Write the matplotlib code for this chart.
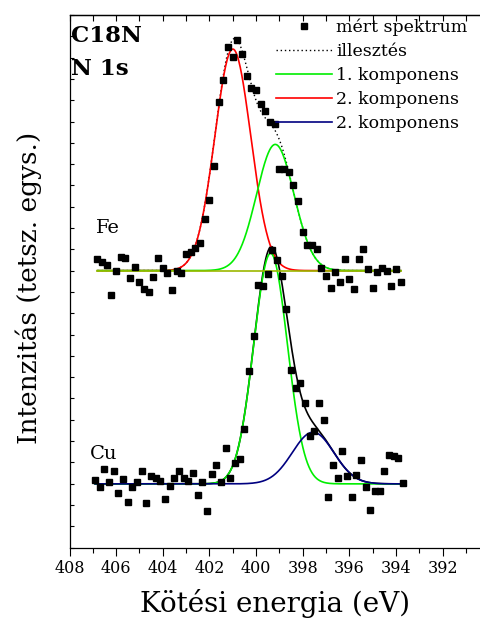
import numpy as np
import matplotlib
matplotlib.use("Agg")
import matplotlib.pyplot as plt
from matplotlib.ticker import MultipleLocator, NullFormatter
from matplotlib.lines import Line2D

# --- measured N 1s spectra (binding energy grid in eV, intensity in arb. units) ---
fe_energy = np.round(np.arange(406.8, 393.79, -0.2), 2)
fe_counts = [54.2, 53.7, 53.0, 47.5, 52.0, 54.5, 54.3, 50.7, 52.6, 49.8,
             48.6, 48.0, 50.8, 54.3, 52.5, 51.5, 48.4, 51.9, 51.5, 55.2,
             55.5, 56.2, 57.2, 61.6, 65.2, 71.7, 83.7, 87.7, 93.9, 92.2,
             95.3, 92.7, 88.5, 86.3, 85.9, 83.2, 82.0, 80.0, 79.5, 71.1,
             71.1, 70.5, 68.0, 65.0, 59.2, 56.8, 56.8, 56.0, 52.5, 51.0,
             48.8, 51.7, 49.8, 54.2, 50.4, 48.6, 54.2, 56.0, 52.3, 48.8,
             51.8, 52.5, 52.0, 49.1, 52.3, 49.8]

cu_energy = np.round(np.arange(406.9, 393.69, -0.2), 2)
cu_counts = [12.6, 11.4, 14.8, 12.3, 14.4, 10.3, 12.8, 8.5, 11.3, 12.3,
             14.4, 8.4, 13.4, 13.0, 12.4, 9.2, 11.6, 13.0, 14.4, 13.0,
             12.4, 13.9, 9.9, 12.3, 6.9, 13.8, 15.4, 12.3, 18.6, 13.1,
             15.8, 16.7, 22.3, 33.2, 39.8, 49.3, 49.2, 51.3, 55.9, 54.0,
             51.0, 44.7, 33.4, 30.0, 30.9, 27.1, 21.0, 21.8, 27.1, 24.0,
             9.4, 15.5, 13.0, 18.2, 13.4, 9.4, 13.6, 16.5, 11.4, 7.1,
             10.6, 10.7, 14.4, 17.4, 17.2, 16.8, 12.1]

# --- fitted Gaussian components: (centre eV, amplitude, sigma eV) ---
fe_background = 52.0
fe_comp1 = (399.18, 23.7, 0.80)   # green
fe_comp2 = (401.00, 41.6, 0.77)   # red
cu_background = 11.95
cu_comp1 = (399.38, 43.3, 0.72)   # green
cu_comp2 = (397.56, 9.7, 0.89)    # navy

x_ticks = [408, 406, 404, 402, 400, 398, 396, 394, 392]
legend_labels = ["mért spektrum", "illesztés", "1. komponens",
                 "2. komponens", "2. komponens"]


def gauss(x, c, a, s):
    return a * np.exp(-0.5 * ((x - c) / s) ** 2)


GREEN = "#00ee00"
RED = "#ff0000"
NAVY = "#000080"
OLIVE = "#9cb800"
SERIF = ["DejaVu Serif"]

W, H = 480, 621
fig = plt.figure(figsize=(W / 100, H / 100), dpi=100)
ax = fig.add_axes([69.5 / W, 1 - 547.5 / H, 0.87, (547.5 - 15) / H])

# Fe spectrum and its decomposition
xf = np.linspace(fe_energy[0], fe_energy[-1], 600)
f1 = gauss(xf, *fe_comp1)
f2 = gauss(xf, *fe_comp2)
ax.plot(xf, fe_background + f1 + f2, color="black", lw=1.0, ls=(0, (1, 2)), zorder=2)
ax.plot(xf, fe_background + f2, color=RED, lw=1.2, zorder=3)
ax.plot(xf, fe_background + f1, color=GREEN, lw=1.2, zorder=3)
# shared flat background of both components
ax.plot([fe_energy[0], fe_energy[-1]], [fe_background, fe_background],
        color=OLIVE, lw=1.2, zorder=3.5)
ax.plot(fe_energy, fe_counts, ls="none", marker="s", ms=3.8, color="black", zorder=5)

# Cu spectrum and its decomposition
xc = np.linspace(cu_energy[0], cu_energy[-1], 600)
c1 = gauss(xc, *cu_comp1)
c2 = gauss(xc, *cu_comp2)
ax.plot(xc, cu_background + c1 + c2, color="black", lw=1.2, zorder=2)
ax.plot(xc, cu_background + c1, color=GREEN, lw=1.2, zorder=3)
ax.plot(xc, cu_background + c2, color=NAVY, lw=1.2, zorder=4)
ax.plot(cu_energy, cu_counts, ls="none", marker="s", ms=3.8, color="black", zorder=5)

ax.set_xlim(408, 408 - 0.87 * W / 23.33)
ax.set_ylim(0, 100)

ax.set_xticks(x_ticks)
ax.set_xticklabels([str(t) for t in x_ticks], fontsize=11.5, family=SERIF)
ax.xaxis.set_minor_locator(MultipleLocator(1))
ax.tick_params(axis="x", which="major", direction="out", length=6, width=0.8, pad=3)
ax.tick_params(axis="x", which="minor", direction="out", length=3.5, width=0.8)
ax.yaxis.set_major_locator(MultipleLocator(4))
ax.yaxis.set_major_formatter(NullFormatter())
ax.tick_params(axis="y", direction="in", length=3, width=0.8)

# top ticks point into the frame
secx = ax.secondary_xaxis("top")
secx.set_xticks(x_ticks)
secx.xaxis.set_minor_locator(MultipleLocator(1))
secx.tick_params(axis="x", which="both", direction="in", length=4, width=0.8,
                 labeltop=False)
ax.spines["right"].set_visible(False)
for s in ("left", "bottom", "top"):
    ax.spines[s].set_linewidth(0.9)
secx.spines["top"].set_linewidth(0.9)

fig.text(275 / W, 1 - 603 / H, "Kötési energia (eV)", fontsize=20,
         family=SERIF, ha="center", va="center")
fig.text(29 / W, 1 - 288 / H, "Intenzitás (tetsz. egys.)",
         rotation=90, ha="center", va="center", fontsize=19, family=SERIF)

fig.text(71 / W, 1 - 42 / H, "C18N", fontsize=16.5, family=SERIF,
         fontweight="bold", ha="left", va="baseline")
fig.text(71 / W, 1 - 75 / H, "N 1s", fontsize=16.5, family=SERIF,
         fontweight="bold", ha="left", va="baseline")
fig.text(96 / W, 1 - 233 / H, "Fe", fontsize=14, family=SERIF,
         ha="left", va="baseline")
fig.text(90 / W, 1 - 459 / H, "Cu", fontsize=14, family=SERIF,
         ha="left", va="baseline")

handles = [
    Line2D([], [], ls="none", marker="s", ms=4.2, color="black"),
    Line2D([], [], color="black", lw=1.0, ls=(0, (1, 2))),
    Line2D([], [], color=GREEN, lw=1.2),
    Line2D([], [], color=RED, lw=1.2),
    Line2D([], [], color=NAVY, lw=1.2),
]
fig.legend(handles, legend_labels, loc="upper left",
           bbox_to_anchor=(276 / W, 1 - 19 / H), frameon=False,
           prop={"family": SERIF, "size": 12.5}, handlelength=3.2,
           handletextpad=0.28, labelspacing=0.4, borderaxespad=0,
           borderpad=0)

fig.savefig("out.png", dpi=100)
